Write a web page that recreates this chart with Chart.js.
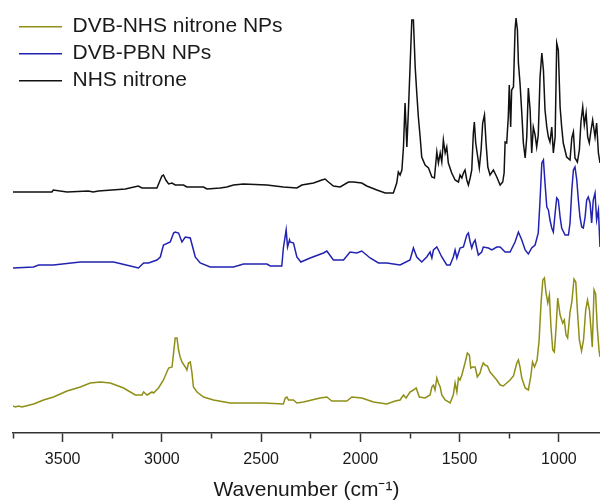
<!DOCTYPE html>
<html>
<head>
<meta charset="utf-8">
<script src="https://cdn.jsdelivr.net/npm/chart.js@4.4.1/dist/chart.umd.min.js"></script>
<style>
  html, body { margin: 0; padding: 0; background: #fff; }
  #wrap { width: 600px; height: 503px; }
</style>
</head>
<body>
<div id="wrap"><canvas id="chart"></canvas></div>
<script>
// FTIR spectra, stacked with offsets: [wavenumber (cm-1), intensity (a.u.)]
const seriesNames = ['DVB-NHS nitrone NPs', 'DVB-PBN NPs', 'NHS nitrone'];
const seriesColors = ['#8f8f18', '#2222b2', '#111111'];

const nhsNitroneNPs = [
  [3750,0.27],[3738,0.26],[3722,0.27],[3705,0.26],[3646,0.29],[3596,0.33],[3546,0.36],[3478,0.42],
  [3411,0.46],[3361,0.50],[3310,0.51],[3260,0.50],[3193,0.45],[3134,0.38],[3100,0.38],[3092,0.41],
  [3075,0.38],[3050,0.41],[3042,0.40],[3017,0.45],[2992,0.53],[2975,0.61],[2966,0.65],[2949,0.66],
  [2941,0.80],[2933,0.95],[2924,0.95],[2916,0.83],[2908,0.76],[2899,0.71],[2882,0.66],[2874,0.63],
  [2866,0.70],[2857,0.71],[2849,0.61],[2841,0.46],[2823,0.41],[2790,0.36],[2740,0.33],[2656,0.30],
  [2488,0.30],[2388,0.29],[2379,0.35],[2370,0.36],[2362,0.33],[2337,0.33],[2320,0.30],[2287,0.31],
  [2203,0.35],[2169,0.36],[2144,0.32],[2068,0.32],[2043,0.36],[1993,0.35],[1934,0.31],[1867,0.29],
  [1825,0.32],[1800,0.33],[1783,0.38],[1770,0.35],[1750,0.41],[1733,0.43],[1719,0.45],[1703,0.36],
  [1674,0.35],[1649,0.38],[1640,0.46],[1632,0.48],[1624,0.43],[1615,0.55],[1607,0.50],[1598,0.46],
  [1590,0.38],[1573,0.33],[1548,0.30],[1532,0.38],[1523,0.50],[1514,0.41],[1506,0.55],[1498,0.53],
  [1489,0.58],[1473,0.70],[1461,0.80],[1451,0.78],[1444,0.65],[1434,0.66],[1422,0.66],[1411,0.56],
  [1397,0.60],[1389,0.66],[1381,0.70],[1372,0.68],[1360,0.67],[1347,0.61],[1330,0.57],[1313,0.53],
  [1296,0.48],[1280,0.47],[1263,0.50],[1246,0.53],[1229,0.57],[1212,0.70],[1204,0.73],[1196,0.66],
  [1187,0.55],[1170,0.45],[1154,0.43],[1142,0.56],[1133,0.71],[1123,0.66],[1110,0.73],[1100,0.92],
  [1090,1.30],[1081,1.53],[1073,1.55],[1065,1.40],[1056,1.30],[1048,1.38],[1040,1.06],[1031,0.83],
  [1023,0.81],[1014,1.06],[1006,1.35],[994,1.18],[981,1.10],[973,1.13],[964,0.98],[956,0.95],
  [944,1.21],[935,1.31],[924,1.54],[915,1.51],[907,1.23],[897,0.93],[886,0.82],[876,0.93],
  [865,1.23],[856,1.33],[846,1.23],[838,1.03],[832,0.86],[823,1.43],[815,1.39],[807,1.06],
  [798,0.83],[793,0.76]
];

const pbnNPs = [
  [3750,1.65],[3646,1.66],[3621,1.68],[3546,1.68],[3411,1.71],[3243,1.71],[3159,1.67],[3118,1.65],
  [3092,1.70],[3067,1.70],[3025,1.73],[3008,1.76],[2992,1.88],[2958,1.91],[2941,2.00],[2933,2.01],
  [2916,2.00],[2899,1.91],[2882,1.96],[2857,1.95],[2841,1.83],[2832,1.76],[2807,1.70],[2757,1.66],
  [2639,1.66],[2589,1.69],[2471,1.69],[2454,1.67],[2396,1.67],[2388,1.85],[2374,2.03],[2367,1.86],
  [2357,1.93],[2354,1.91],[2337,1.90],[2320,1.76],[2300,1.71],[2253,1.75],[2186,1.80],[2169,1.82],
  [2136,1.73],[2085,1.73],[2052,1.81],[2018,1.80],[1993,1.82],[1951,1.75],[1909,1.70],[1867,1.70],
  [1800,1.68],[1750,1.73],[1733,1.85],[1716,1.76],[1691,1.71],[1666,1.76],[1649,1.81],[1640,1.75],
  [1632,1.83],[1615,1.86],[1607,1.83],[1590,1.76],[1565,1.68],[1548,1.68],[1532,1.76],[1523,1.83],
  [1514,1.75],[1498,1.85],[1481,1.86],[1464,1.98],[1456,2.00],[1447,1.91],[1439,1.85],[1431,1.90],
  [1422,1.93],[1414,1.85],[1406,1.78],[1389,1.81],[1381,1.86],[1355,1.85],[1338,1.83],[1313,1.86],
  [1296,1.86],[1271,1.81],[1246,1.81],[1221,1.91],[1204,2.01],[1187,1.93],[1170,1.83],[1154,1.79],
  [1137,1.85],[1120,1.88],[1104,2.00],[1095,2.33],[1086,2.70],[1078,2.73],[1070,2.50],[1061,2.26],
  [1053,2.23],[1045,2.13],[1036,2.05],[1028,2.01],[1019,2.20],[1011,2.35],[1003,2.33],[994,2.16],
  [986,2.05],[969,1.98],[952,1.98],[944,2.10],[935,2.43],[927,2.63],[919,2.66],[910,2.53],
  [902,2.33],[894,2.16],[885,2.06],[877,2.05],[868,2.16],[860,2.33],[852,2.36],[843,2.30],
  [835,2.10],[827,2.33],[818,2.40],[810,2.13],[801,2.23],[793,1.86]
];

const nhsNitrone = [
  [3750,2.41],[3554,2.41],[3547,2.43],[3478,2.41],[3371,2.42],[3346,2.41],[3320,2.42],[3184,2.44],
  [3119,2.47],[3100,2.45],[3025,2.45],[3000,2.57],[2992,2.58],[2980,2.53],[2966,2.49],[2949,2.50],
  [2933,2.48],[2891,2.48],[2874,2.46],[2790,2.46],[2773,2.44],[2706,2.45],[2673,2.46],[2639,2.48],
  [2589,2.49],[2471,2.48],[2388,2.46],[2320,2.45],[2295,2.48],[2236,2.50],[2194,2.53],[2178,2.54],
  [2161,2.51],[2136,2.47],[2102,2.46],[2060,2.51],[2035,2.51],[1993,2.50],[1968,2.47],[1917,2.43],
  [1875,2.40],[1834,2.40],[1817,2.50],[1809,2.61],[1800,2.58],[1791,2.63],[1783,2.86],[1775,3.30],
  [1766,2.86],[1758,3.23],[1750,3.65],[1741,4.13],[1733,4.13],[1724,3.66],[1716,3.40],[1708,3.16],
  [1699,2.96],[1691,2.76],[1674,2.68],[1657,2.65],[1640,2.56],[1627,2.55],[1615,2.81],[1607,2.70],
  [1598,2.80],[1590,2.71],[1582,2.93],[1573,2.80],[1565,2.86],[1557,2.70],[1540,2.60],[1523,2.53],
  [1506,2.51],[1498,2.58],[1489,2.55],[1481,2.60],[1473,2.63],[1464,2.53],[1456,2.48],[1447,2.55],
  [1439,2.63],[1431,3.00],[1426,3.11],[1419,2.90],[1409,2.76],[1401,2.65],[1392,2.83],[1384,3.10],
  [1375,3.18],[1367,2.90],[1358,2.66],[1347,2.58],[1330,2.63],[1313,2.56],[1296,2.48],[1283,2.51],
  [1276,2.60],[1271,2.91],[1263,2.90],[1255,3.16],[1250,3.48],[1243,3.06],[1238,3.43],[1229,3.46],
  [1221,4.03],[1216,4.15],[1209,4.03],[1204,3.70],[1196,3.50],[1187,3.20],[1179,2.90],[1170,2.75],
  [1162,2.96],[1154,3.45],[1145,3.23],[1137,2.80],[1129,3.06],[1120,2.98],[1112,2.86],[1104,2.98],
  [1095,3.56],[1086,3.80],[1078,3.63],[1070,3.23],[1061,3.06],[1053,2.96],[1045,2.91],[1036,3.06],
  [1028,2.80],[1019,2.96],[1011,3.90],[1003,3.83],[994,3.26],[986,3.06],[978,2.90],[961,2.76],
  [944,2.73],[935,2.95],[927,3.01],[919,2.75],[907,2.71],[897,2.83],[889,3.11],[880,3.26],
  [872,3.08],[863,3.20],[855,2.96],[847,2.90],[838,3.03],[830,3.13],[818,2.96],[810,3.10],
  [801,2.80],[793,2.70]
];

const tickValues = [3750, 3500, 3250, 3000, 2750, 2500, 2250, 2000, 1750, 1500, 1250, 1000];
const majorTicks = [3500, 3000, 2500, 2000, 1500, 1000];

const allSeries = [nhsNitroneNPs, pbnNPs, nhsNitrone];
const font = 'Arial, "Liberation Sans", sans-serif';

new Chart(document.getElementById('chart'), {
  type: 'line',
  data: {
    datasets: allSeries.map((s, i) => ({
      label: seriesNames[i],
      data: s.map(p => ({ x: p[0], y: p[1] })),
      borderColor: seriesColors[i],
      backgroundColor: seriesColors[i],
      borderWidth: 1.5,
      pointRadius: 0,
      tension: 0,
      fill: false
    }))
  },
  options: {
    responsive: true,
    maintainAspectRatio: false,
    animation: false,
    layout: { padding: { left: 13, top: 9, right: 0, bottom: 0 } },
    plugins: {
      tooltip: { enabled: false },
      legend: {
        position: 'chartArea',
        align: 'start',
        // empty title only pushes the entries down a little
        title: { display: true, text: '', padding: 0, font: { size: 8.5 } },
        labels: {
          usePointStyle: true,
          pointStyle: 'line',
          pointStyleWidth: 43,
          padding: 6,
          color: '#1a1a1a',
          font: { family: font, size: 21 }
        }
      }
    },
    scales: {
      x: {
        type: 'linear',
        reverse: true,
        min: 793,
        max: 3750,
        afterBuildTicks: (scale) => {
          scale.ticks = tickValues.map(v => ({ value: v }));
        },
        ticks: {
          autoSkip: false,
          maxRotation: 0,
          padding: 8.3,
          color: '#1a1a1a',
          font: { family: font, size: 16 },
          callback: (v) => majorTicks.includes(v) ? String(v) : ''
        },
        grid: {
          display: true,
          drawOnChartArea: false,
          drawTicks: true,
          tickLength: 9,
          tickWidth: 1.5,
          tickColor: '#333',
          tickBorderDash: (ctx) => (ctx.tick && majorTicks.includes(ctx.tick.value)) ? [] : [5, 30]
        },
        border: { display: true, color: '#333', width: 1.5 },
        title: {
          display: true,
          text: 'Wavenumber (cm⁻¹)',
          color: '#1a1a1a',
          font: { family: font, size: 21 },
          padding: { top: 0, bottom: 0 }
        }
      },
      y: {
        display: false,
        min: 0,
        max: 4.24
      }
    }
  }
});
</script>
</body>
</html>
